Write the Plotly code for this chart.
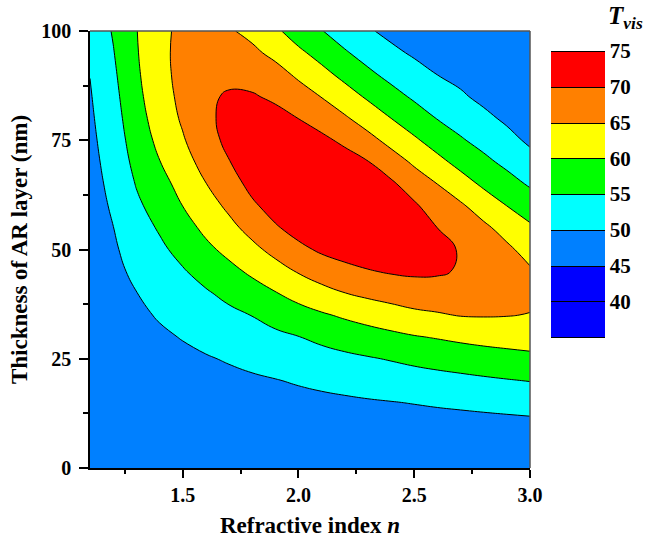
import plotly.graph_objects as go

# Refractive index n of the AR layer (x) and layer thickness in nm (y)
refractive_index = [1.1, 1.2, 1.3, 1.4, 1.5, 1.6, 1.7, 1.8, 1.9, 2.0,
                    2.1, 2.2, 2.3, 2.4, 2.5, 2.6, 2.7, 2.8, 2.9, 3.0]
thickness_nm = [0, 5, 10, 15, 20, 25, 30, 35, 40, 45, 50,
                55, 60, 65, 70, 75, 80, 85, 90, 95, 100]

# Visible transmittance T_vis (%) estimated along each n column, thickness 0 -> 100 nm
tvis_n1_1 = [46.5, 46.51, 46.54, 46.60, 46.67, 46.77, 46.89, 47.04, 47.20, 47.38, 47.59,
             47.82, 48.07, 48.35, 48.64, 48.96, 49.30, 49.66, 50.07, 50.79, 51.5]
tvis_n1_2 = [46.5, 46.53, 46.61, 46.76, 46.95, 47.21, 47.52, 47.89, 48.32, 48.80, 49.34,
             49.94, 50.54, 51.14, 51.75, 52.35, 52.95, 53.55, 54.16, 54.76, 55.36]
tvis_n1_3 = [46.5, 46.55, 46.71, 46.98, 47.35, 47.83, 48.42, 49.11, 49.91, 50.96, 52.02,
             53.09, 54.15, 55.24, 56.33, 57.28, 58.08, 58.73, 59.24, 59.61, 59.83]
tvis_n1_4 = [46.5, 46.58, 46.81, 47.20, 47.75, 48.45, 49.31, 50.38, 51.63, 52.88, 54.13,
             55.44, 56.91, 58.38, 59.85, 61.11, 62.11, 62.88, 63.42, 63.73, 63.80]
tvis_n1_5 = [46.5, 46.60, 46.91, 47.42, 48.13, 49.05, 50.21, 51.68, 53.15, 54.62, 56.35,
             58.18, 60.02, 61.52, 63.03, 64.55, 65.60, 66.19, 66.48, 66.44, 66.10]
tvis_n1_6 = [46.5, 46.63, 47.01, 47.64, 48.52, 49.66, 51.22, 52.86, 54.51, 56.62, 58.94,
             61.04, 62.96, 64.88, 66.77, 68.12, 68.93, 69.20, 68.93, 68.12, 66.77]
tvis_n1_7 = [46.5, 46.65, 47.11, 47.87, 48.93, 50.36, 52.17, 53.99, 56.13, 58.71, 61.24,
             63.71, 65.93, 67.87, 69.81, 71.13, 71.35, 70.50, 68.86, 67.18, 65.50]
tvis_n1_8 = [46.5, 46.68, 47.22, 48.11, 49.37, 51.14, 53.11, 55.11, 57.95, 60.83, 63.81,
             66.58, 69.21, 71.37, 72.54, 72.77, 72.07, 70.44, 68.21, 65.98, 63.74]
tvis_n1_9 = [46.5, 46.71, 47.33, 48.37, 49.83, 51.91, 54.03, 56.67, 59.75, 63.11, 66.38,
             69.50, 71.86, 73.20, 73.60, 73.05, 71.56, 69.17, 66.77, 63.82, 60.88]
tvis_n2_0 = [46.5, 46.74, 47.46, 48.66, 50.41, 52.66, 54.91, 58.16, 61.64, 65.35, 68.87,
             71.73, 73.42, 74.09, 73.74, 72.38, 69.97, 67.16, 64.22, 60.97, 57.72]
tvis_n2_1 = [46.5, 46.77, 47.59, 48.96, 50.99, 53.35, 56.03, 59.45, 63.44, 67.25, 70.72,
             73.03, 74.22, 74.29, 73.24, 71.06, 68.00, 64.86, 61.49, 58.27, 55.19]
tvis_n2_2 = [46.5, 46.81, 47.73, 49.26, 51.53, 54.01, 57.08, 60.68, 64.92, 68.66, 71.85,
             73.74, 74.40, 73.84, 72.05, 69.04, 65.62, 62.11, 58.72, 55.51, 52.69]
tvis_n2_3 = [46.5, 46.84, 47.87, 49.58, 52.06, 54.64, 57.98, 61.84, 66.03, 69.71, 72.53,
             73.98, 74.07, 72.81, 70.20, 66.49, 62.86, 59.33, 56.00, 53.16, 50.53]
tvis_n2_4 = [46.5, 46.87, 48.00, 49.86, 52.53, 55.29, 58.86, 62.93, 66.88, 70.44, 72.76,
             73.60, 72.94, 70.80, 67.24, 63.57, 60.02, 56.67, 53.68, 51.05, 48.80]
tvis_n2_5 = [46.5, 46.90, 48.12, 50.17, 52.98, 56.03, 59.71, 63.97, 67.60, 70.80, 72.41,
             72.38, 70.70, 67.60, 64.29, 60.71, 57.37, 54.29, 51.82, 49.37, 47.90]
tvis_n2_6 = [46.5, 46.94, 48.26, 50.52, 53.43, 56.67, 60.34, 64.58, 67.78, 70.60, 71.38,
             69.98, 67.50, 64.98, 61.32, 57.97, 54.85, 52.43, 49.98, 48.40, 47.40]
tvis_n2_7 = [46.5, 46.97, 48.39, 50.84, 53.86, 57.25, 61.02, 65.22, 68.09, 69.57, 69.67,
             68.38, 65.70, 62.01, 58.58, 55.49, 53.00, 50.62, 48.80, 47.60, 47.00]
tvis_n2_8 = [46.5, 47.01, 48.54, 51.19, 54.31, 57.83, 61.56, 65.33, 67.40, 68.19, 67.71,
             65.95, 62.68, 59.20, 56.11, 53.48, 51.10, 48.90, 47.60, 47.10, 47.20]
tvis_n2_9 = [46.5, 47.05, 48.70, 51.54, 54.74, 58.38, 61.89, 65.19, 66.79, 67.03, 65.92,
             63.21, 59.98, 56.79, 53.92, 51.47, 49.20, 47.90, 47.20, 47.20, 47.70]
tvis_n3_0 = [46.5, 47.10, 48.89, 51.88, 55.15, 58.94, 62.02, 64.83, 66.27, 65.60, 63.23,
             60.71, 57.63, 54.46, 51.74, 49.19, 47.90, 47.10, 46.90, 47.20, 47.80]

x_tick_vals = [1.5, 2.0, 2.5, 3.0]
x_tick_text = ["1.5", "2.0", "2.5", "3.0"]
x_minor_vals = [1.25, 1.75, 2.25, 2.75]
y_tick_vals = [0, 25, 50, 75, 100]
y_minor_vals = [12.5, 37.5, 62.5, 87.5]
cbar_tick_vals = [40, 45, 50, 55, 60, 65, 70, 75]

columns = [tvis_n1_1, tvis_n1_2, tvis_n1_3, tvis_n1_4, tvis_n1_5,
           tvis_n1_6, tvis_n1_7, tvis_n1_8, tvis_n1_9, tvis_n2_0,
           tvis_n2_1, tvis_n2_2, tvis_n2_3, tvis_n2_4, tvis_n2_5,
           tvis_n2_6, tvis_n2_7, tvis_n2_8, tvis_n2_9, tvis_n3_0]
z = [[col[i] for col in columns] for i in range(len(thickness_nm))]

FONT = "Liberation Serif"

colorscale = [
    [0.0, "#0000FF"], [0.2778, "#0000FF"],
    [0.2778, "#0080FF"], [0.3889, "#0080FF"],
    [0.3889, "#00FFFF"], [0.5, "#00FFFF"],
    [0.5, "#00FF00"], [0.6111, "#00FF00"],
    [0.6111, "#FFFF00"], [0.7222, "#FFFF00"],
    [0.7222, "#FF8000"], [0.8333, "#FF8000"],
    [0.8333, "#FF0000"], [1.0, "#FF0000"],
]

fig = go.Figure(go.Contour(
    x=refractive_index, y=thickness_nm, z=z,
    autocontour=False,
    contours=dict(start=35, end=75, size=5, coloring="fill", showlines=True),
    line=dict(color="black", width=1, smoothing=1.3),
    colorscale=colorscale,
    zauto=False, zmin=35, zmax=75,
    colorbar=dict(
        x=(551 - 90) / 440, xanchor="left", xpad=0,
        y=(468 - 194) / 437, yanchor="middle", ypad=0,
        len=286, lenmode="pixels",
        thickness=54, thicknessmode="pixels",
        outlinewidth=0,
        tickmode="array", tickvals=cbar_tick_vals,
        ticks="", ticklen=0,
        tickfont=dict(family=FONT, size=21, color="black", weight="bold"),
    ),
    hoverinfo="skip",
))

fig.update_layout(
    width=647, height=538,
    margin=dict(l=90, r=117, t=31, b=70, autoexpand=False),
    paper_bgcolor="white", plot_bgcolor="white",
    font=dict(family=FONT, color="black"),
    showlegend=False,
    xaxis=dict(
        range=[1.1, 3.0], tickmode="array", tickvals=x_tick_vals, ticktext=x_tick_text,
        ticks="outside", ticklen=8, tickwidth=1.5, tickcolor="black",
        minor=dict(tickvals=x_minor_vals, ticks="outside", ticklen=4, tickwidth=1.5, tickcolor="black"),
        showline=True, linecolor="black", linewidth=1.5, mirror=False,
        showgrid=False, zeroline=False, automargin=False,
        tickfont=dict(family=FONT, size=20, color="black", weight="bold"),
        title=dict(text="<b>Refractive index <i>n</i></b>",
                   font=dict(family=FONT, size=23, color="black"), standoff=12),
    ),
    yaxis=dict(
        range=[0, 100], tickmode="array", tickvals=y_tick_vals,
        ticks="outside", ticklen=9, tickwidth=1.5, tickcolor="black",
        minor=dict(tickvals=y_minor_vals, ticks="outside", ticklen=5, tickwidth=1.5, tickcolor="black"),
        showline=True, linecolor="black", linewidth=1.5, mirror=False,
        showgrid=False, zeroline=False, automargin=False,
        ticklabelstandoff=4,
        tickfont=dict(family=FONT, size=20, color="black", weight="bold"),
        title=dict(text="<b>Thickness of AR layer (nm)</b>",
                   font=dict(family=FONT, size=23, color="black"), standoff=7),
    ),
    shapes=[
        dict(type="line", xref="paper", yref="paper", x0=0, x1=1, y0=1, y1=1,
             line=dict(color="#555555", width=1.5), layer="above"),
        dict(type="line", xref="paper", yref="paper", x0=1, x1=1, y0=0, y1=1,
             line=dict(color="#555555", width=1.5), layer="above"),
    ],
    annotations=[
        dict(xref="paper", yref="paper", x=(645 - 90) / 440, y=(468 - 18) / 437,
             xanchor="right", yanchor="middle", showarrow=False,
             text="<b><i>T</i></b><sub><b><i>vis</i></b></sub>",
             font=dict(family=FONT, size=25, color="black")),
    ],
)

fig.write_html("out.html", config={"displayModeBar": False},
               post_script="document.body.style.margin='0';")
